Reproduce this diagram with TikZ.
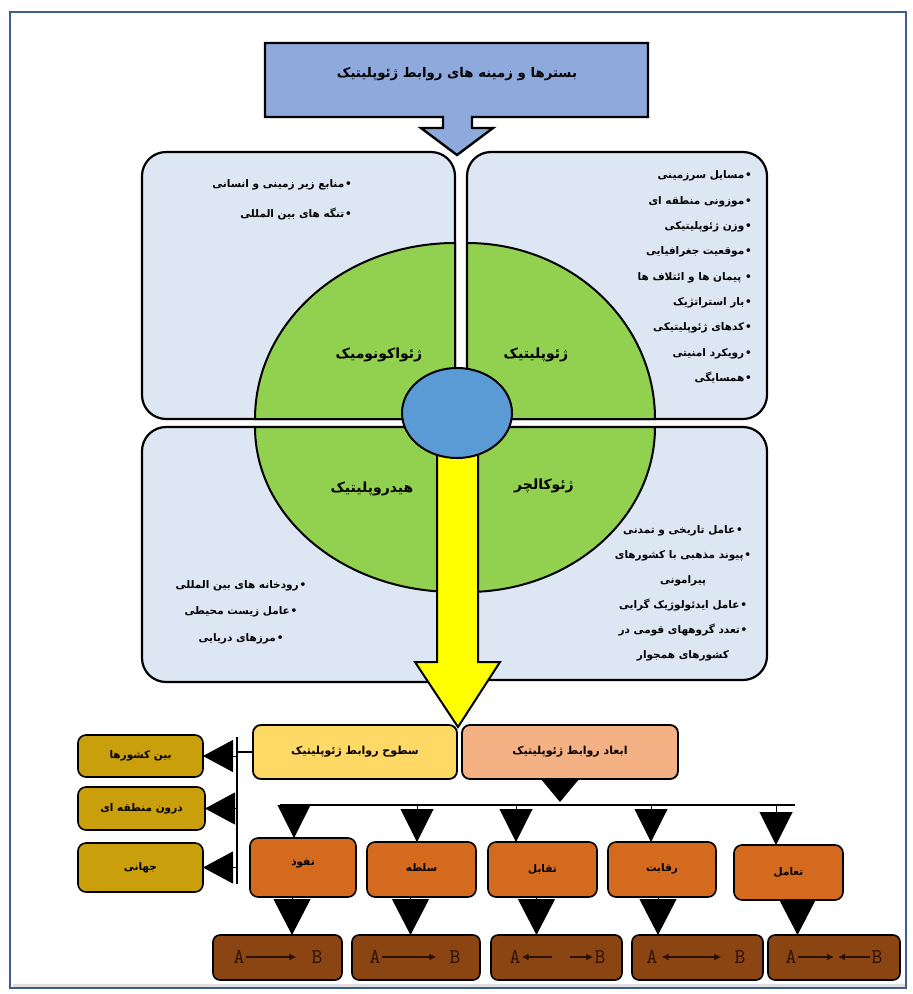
\documentclass[tikz,border=0pt]{standalone}
\usepackage{fontspec}
\setmainfont{DejaVu Sans}
\newfontfamily\arabicfont[Script=Arabic]{DejaVu Sans}
\TeXXeTstate=1
\usetikzlibrary{arrows.meta,shapes.geometric}
\newcommand{\faR}[1]{\beginR #1\endR}
\newcommand{\bul}{•\kern0.8pt}
\definecolor{frameblue}{HTML}{3E5C8F}
\definecolor{titleblue}{HTML}{8EA9DB}
\definecolor{quadfill}{HTML}{DDE7F3}
\definecolor{piegreen}{HTML}{92D050}
\definecolor{hubblue}{HTML}{5B9BD5}
\definecolor{arrowyellow}{HTML}{FFFF00}
\definecolor{levelbox}{HTML}{FFD966}
\definecolor{dimbox}{HTML}{F4B183}
\definecolor{goldbox}{HTML}{C9A00C}
\definecolor{orangebox}{HTML}{D46A1E}
\definecolor{brownbox}{HTML}{8B4513}
\definecolor{inkbrown}{HTML}{2B1200}
\begin{document}
\begin{tikzpicture}[x=1pt,y=-1pt,
  quad/.style={draw=black, line width=2.2pt, fill=quadfill, rounded corners=24pt, inner sep=0pt, outer sep=0pt},
  piestyle/.style={draw=black, line width=2pt, fill=piegreen},
  listtxt/.style={font=\arabicfont\bfseries\fontsize{10.5}{25.3}\selectfont, inner sep=0pt, text=black},
  pielabel/.style={font=\arabicfont\bfseries\fontsize{14}{16}\selectfont, inner sep=0pt},
  lbox/.style={draw=black, line width=1.8pt, rounded corners=8pt, inner sep=0pt, outer sep=0pt, font=\arabicfont\bfseries\fontsize{11}{13}\selectfont},
  sbox/.style={draw=black, line width=1.6pt, rounded corners=8pt, inner sep=0pt, outer sep=0pt, font=\arabicfont\bfseries\fontsize{10.5}{12}\selectfont},
  abox/.style={draw=black, line width=1.6pt, rounded corners=7pt, inner sep=0pt, outer sep=0pt, fill=brownbox, minimum height=45},
  letter/.style={font=\ttfamily\fontsize{21}{21}\selectfont, text=inkbrown, inner sep=1pt},
  smallarrow/.style={draw=inkbrown, line width=1.2pt},
  tipL/.style={-{Latex[length=7pt,width=7pt]}},
  triA/.style={draw=black, line width=1pt, -{Triangle[length=33pt,width=33pt]}},
  triB/.style={draw=black, line width=1pt, -{Triangle[length=36pt,width=37pt]}},
  triC/.style={draw=black, line width=1pt, -{Triangle[length=30pt,width=32pt]}},
  triD/.style={draw=black, line width=1pt, -{Triangle[length=23pt,width=38pt]}},
  conn/.style={draw=black, line width=1.2pt}
]
\useasboundingbox (0,0) rectangle (913,994);
\fill[white] (0,0) rectangle (913,994);
% page frame
\draw[gray!25, line width=3pt] (13,985) -- (905,985);
\draw[frameblue, line width=2pt] (10,12) rectangle (906,988);

% title callout
\draw[fill=titleblue, line width=2.4pt, line join=miter]
  (265,43) -- (648,43) -- (648,117) -- (472,117) -- (472,128) -- (493,128)
  -- (457,155) -- (421,128) -- (443,128) -- (443,117) -- (265,117) -- cycle;
\node[font=\arabicfont\bfseries\fontsize{13.3}{15}\selectfont, inner sep=0pt] (title) at (457,74)
  {\faR{بسترها و زمینه های روابط ژئوپلیتیک}};

% four quadrant boxes
\node[quad, minimum width=313, minimum height=267] (qtl) at (298.5,285.5) {};
\node[quad, minimum width=300, minimum height=267] (qtr) at (617,285.5) {};
\node[quad, minimum width=313, minimum height=255] (qbl) at (298.5,554.5) {};
\node[quad, minimum width=300, minimum height=253] (qbr) at (617,553.5) {};

% green quarter pies
\draw[piestyle] (qtl.south east) -- ++(-200,0) arc[start angle=180,end angle=270,x radius=200,y radius=176] -- cycle;
\draw[piestyle] (qtr.south west) -- ++(0,-176) arc[start angle=270,end angle=360,x radius=188,y radius=176] -- cycle;
\draw[piestyle] (qbl.north east) -- ++(0,165) arc[start angle=90,end angle=180,x radius=200,y radius=165] -- cycle;
\draw[piestyle] (qbr.north west) -- ++(188,0) arc[start angle=0,end angle=90,x radius=188,y radius=165] -- cycle;

\node[pielabel] (geoeco) at (379,355) {\faR{ژئواکونومیک}};
\node[pielabel] (geopol) at (536,355) {\faR{ژئوپلیتیک}};
\node[pielabel] (hydro) at (372,489) {\faR{هیدروپلیتیک}};
\node[pielabel] (geocul) at (544,486) {\faR{ژئوکالچر}};

% lists
\node[listtxt, font=\arabicfont\bfseries\fontsize{10.5}{30}\selectfont, anchor=east, align=right] (ltl) at (352,200)
  {\faR{\bul منابع زیر زمینی و انسانی}\\ \faR{\bul تنگه های بین المللی}};
\node[listtxt, anchor=east, align=right] (ltr) at (752,277)
  {\faR{\bul مسایل سرزمینی}\\ \faR{\bul موزونی منطقه ای}\\ \faR{\bul وزن ژئوپلیتیکی}\\
   \faR{\bul موقعیت جغرافیایی}\\ \faR{• پیمان ها و ائتلاف ها}\\ \faR{\bul بار استراتژیک}\\
   \faR{\bul کدهای ژئوپلیتیکی}\\ \faR{\bul رویکرد امنیتی}\\ \faR{\bul همسایگی}};
\node[listtxt, font=\arabicfont\bfseries\fontsize{10.5}{26.5}\selectfont, align=center] (lbl) at (241,612)
  {\faR{\bul رودخانه های بین المللی}\\ \faR{\bul عامل زیست محیطی}\\ \faR{\bul مرزهای دریایی}};
\node[listtxt, font=\arabicfont\bfseries\fontsize{10.5}{25}\selectfont, align=center] (lbr) at (683,593)
  {\faR{\bul عامل تاریخی و تمدنی}\\ \faR{\bul پیوند مذهبی با کشورهای}\\ \faR{پیرامونی}\\
   \faR{\bul عامل ایدئولوژیک گرایی}\\ \faR{\bul تعدد گروههای قومی در}\\ \faR{کشورهای همجوار}};

% yellow arrow
\draw[fill=arrowyellow, line width=2pt, line join=miter]
  (437,440) -- (478,440) -- (478,662) -- (500,662) -- (458,727) -- (415,662) -- (437,662) -- cycle;
% hub
\node[ellipse, draw=black, line width=2pt, fill=hubblue, minimum width=110, minimum height=90, inner sep=0pt] (hub) at (457,413) {};

% levels / dimensions
\node[lbox, fill=levelbox, minimum width=204, minimum height=54] (levels) at (355,752) {\faR{سطوح روابط ژئوپلیتیک}};
\node[lbox, fill=dimbox, minimum width=216, minimum height=54] (dims) at (570,752) {\faR{ابعاد روابط ژئوپلیتیک}};

\node[sbox, fill=goldbox, minimum width=125, minimum height=42] (g1) at (140.5,756) {\faR{بین کشورها}};
\node[sbox, fill=goldbox, minimum width=127, minimum height=43] (g2) at (141.5,808.5) {\faR{درون منطقه ای}};
\node[sbox, fill=goldbox, minimum width=125, minimum height=49] (g3) at (140.5,867.5) {\faR{جهانی}};

\coordinate (vj) at (237,752);
\coordinate (vtop) at (237,737);
\coordinate (vbot) at (237,884);
\draw[conn] (levels.west) -- (vj);
\draw[conn] (vtop) -- (vbot);
\draw[triC] (g1.east -| vj) -- (g1.east);
\draw[triC] (g2.east -| vj) -- (g2.east);
\draw[triC] (g3.east -| vj) -- (g3.east);

% dimension boxes
\node[sbox, fill=orangebox, minimum width=106, minimum height=59] (o1) at (303,867.5) {\raisebox{10pt}{\faR{نفوذ}}};
\node[sbox, fill=orangebox, minimum width=109, minimum height=55] (o2) at (421.5,869.5) {\raisebox{5pt}{\faR{سلطه}}};
\node[sbox, fill=orangebox, minimum width=109, minimum height=55] (o3) at (542.5,869.5) {\raisebox{3pt}{\faR{تقابل}}};
\node[sbox, fill=orangebox, minimum width=108, minimum height=55] (o4) at (662,869.5) {\raisebox{5pt}{\faR{رقابت}}};
\node[sbox, fill=orangebox, minimum width=109, minimum height=55] (o5) at (788.5,872.5) {\raisebox{3pt}{\faR{تعامل}}};

\coordinate (hl) at (280,805);
\coordinate (hr) at (795,805);
\draw[conn] (hl) -- (hr);
\draw[triD] ([xshift=-10pt]dims.south) -- ([xshift=-10pt]dims.south |- 0,802);
\coordinate (t1) at (294,805);
\coordinate (t2) at (417,805);
\coordinate (t3) at (516,805);
\coordinate (t4) at (651,805);
\coordinate (t5) at (776,805);
\draw[triA] (t1) -- (t1 |- o1.north);
\draw[triA] (t2) -- (t2 |- o2.north);
\draw[triA] (t3) -- (t3 |- o3.north);
\draw[triA] (t4) -- (t4 |- o4.north);
\draw[triA] (t5) -- (t5 |- o5.north);

% relation boxes
\node[abox, minimum width=129] (b1) at (277.5,957.5) {};
\node[abox, minimum width=128] (b2) at (416,957.5) {};
\node[abox, minimum width=131] (b3) at (556.5,957.5) {};
\node[abox, minimum width=131] (b4) at (697.5,957.5) {};
\node[abox, minimum width=132] (b5) at (834,957.5) {};

\draw[triB] ([xshift=-11pt]o1.south) -- ([xshift=-11pt]o1.south |- b1.north);
\draw[triB] ([xshift=-11pt]o2.south) -- ([xshift=-11pt]o2.south |- b2.north);
\draw[triB] ([xshift=-6pt]o3.south) -- ([xshift=-6pt]o3.south |- b3.north);
\draw[triB] ([xshift=-4pt]o4.south) -- ([xshift=-4pt]o4.south |- b4.north);
\draw[triB] ([xshift=9pt]o5.south) -- ([xshift=9pt]o5.south |- b5.north);

% A / B letters and arrows
\node[letter] (a1) at (239,957) {A};   \node[letter] (c1) at (317,957) {B};
\node[letter] (a2) at (375,957) {A};   \node[letter] (c2) at (455,957) {B};
\node[letter] (a3) at (515,957) {A};   \node[letter] (c3) at (600,957) {B};
\node[letter] (a4) at (652,957) {A};   \node[letter] (c4) at (740,957) {B};
\node[letter] (a5) at (791,957) {A};   \node[letter] (c5) at (877,957) {B};
\coordinate (m3) at (560,957);
\coordinate (m5) at (836,957);
\draw[smallarrow, tipL] (a1.east) -- ([xshift=-14pt]c1.west);
\draw[smallarrow, tipL] (a2.east) -- ([xshift=-12pt]c2.west);
\draw[smallarrow, tipL] ([xshift=-8pt]m3) -- (a3.east);
\draw[smallarrow, tipL] ([xshift=10pt]m3) -- (c3.west);
\draw[smallarrow, {Latex[length=7pt,width=7pt]}-{Latex[length=7pt,width=7pt]}] ([xshift=3pt]a4.east) -- ([xshift=-12pt]c4.west);
\draw[smallarrow, tipL] (a5.east) -- ([xshift=-2pt]m5);
\draw[smallarrow, tipL] (c5.west) -- ([xshift=2pt]m5);
\end{tikzpicture}
\end{document}
